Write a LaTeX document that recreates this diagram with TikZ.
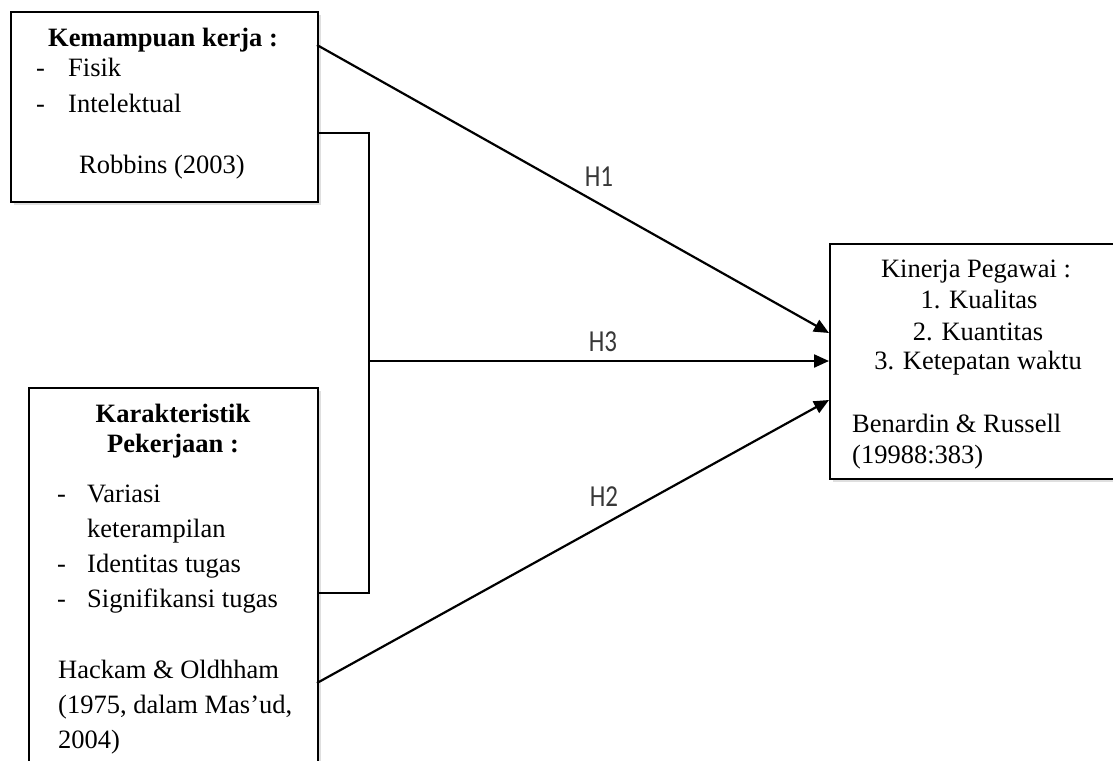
\documentclass[tikz,border=0pt]{standalone}
\usepackage{fontspec}
\usepackage{graphicx}
\setmainfont{Liberation Serif}
\newfontfamily\hfont{Carlito}
\usetikzlibrary{arrows.meta,shadows}
\newcommand{\hlab}[1]{\scalebox{1}[1.22]{#1}}
\begin{document}
\begin{tikzpicture}[x=1pt,y=-1pt,
  box/.style={draw,line width=2pt,fill=white,inner sep=0pt,anchor=north west,
    drop shadow={shadow xshift=3pt,shadow yshift=-3pt,opacity=0.25}},
  conn/.style={line width=2.2pt},
  arr/.style={line width=2.2pt,-{Triangle[length=15pt,width=13pt]}},
  tl/.style={anchor=base west,inner sep=0pt,font=\fontsize{26.5}{30}\selectfont},
  tc/.style={anchor=base,inner sep=0pt,font=\fontsize{26.5}{30}\selectfont},
  hl/.style={inner sep=0pt,text=black!78,font=\hfont\fontsize{25}{28}\selectfont}]
\useasboundingbox (0,0) rectangle (1113,760);
\clip (0,0) rectangle (1113,760);
\fill[white] (0,0) rectangle (1113,760);
% boxes
\node[box,minimum width=307pt,minimum height=190pt] (b1) at (10,11) {};
\node[box,minimum width=289pt,minimum height=400pt] (b2) at (28,387) {};
\node[box,minimum width=310pt,minimum height=235pt] (b3) at (829,243) {};
% box 1 text
\node[tc,font=\bfseries\fontsize{26.5}{30}\selectfont] (k1) at (163,47) {Kemampuan kerja :};
\node[tl] (d1) at (36,77) {-};
\node[tl] (f1) at (68,77) {Fisik};
\node[tl] (d2) at (36,112) {-};
\node[tl] (f2) at (68,112) {Intelektual};
\node[tc] (r1) at (162,173) {Robbins (2003)};
% box 2 text
\node[tc,font=\bfseries\fontsize{26.5}{30}\selectfont] (k2) at (173,422) {Karakteristik};
\node[tc,font=\bfseries\fontsize{26.5}{30}\selectfont] (k3) at (173,452) {Pekerjaan :};
\node[tl] (d3) at (57,502) {-};
\node[tl] (g1) at (87,502) {Variasi};
\node[tl] (g2) at (87,537) {keterampilan};
\node[tl] (d4) at (57,572) {-};
\node[tl] (g3) at (87,572) {Identitas tugas};
\node[tl] (d5) at (57,607) {-};
\node[tl] (g4) at (87,607) {Signifikansi tugas};
\node[tl] (r2) at (58,678) {Hackam \& Oldhham};
\node[tl] (r3) at (58,713) {(1975, dalam Mas’ud,};
\node[tl] (r4) at (58,748) {2004)};
% box 3 text
\node[tc] (p1) at (976,277) {Kinerja Pegawai :};
\node[tc] (p2) at (979,308) {1. Kualitas};
\node[tc] (p3) at (978,340) {2. Kuantitas};
\node[tc] (p4) at (978,369) {3. Ketepatan waktu};
\node[tl] (r5) at (852,432) {Benardin \& Russell};
\node[tl] (r6) at (852,463) {(19988:383)};
% connectors
\coordinate (j1) at (369,133);
\coordinate (j2) at (369,593);
\coordinate (j3) at (369,361);
\coordinate (h1s) at (317,45);
\coordinate (h1e) at (829,333);
\coordinate (h2s) at (317,683);
\coordinate (h2e) at (829,400);
\draw[conn] (b1.east |- j1) -- (j1) -- (j2) -- (b2.east |- j2);
\draw[arr] (j3) -- (b3.west |- j3);
\draw[arr] (h1s) -- (h1e);
\draw[arr] (h2s) -- (h2e);
% labels
\node[hl] (lh1) at (599,177) {\hlab{H1}};
\node[hl] (lh3) at (603,342) {\hlab{H3}};
\node[hl] (lh2) at (604,497) {\hlab{H2}};
\end{tikzpicture}
\end{document}
